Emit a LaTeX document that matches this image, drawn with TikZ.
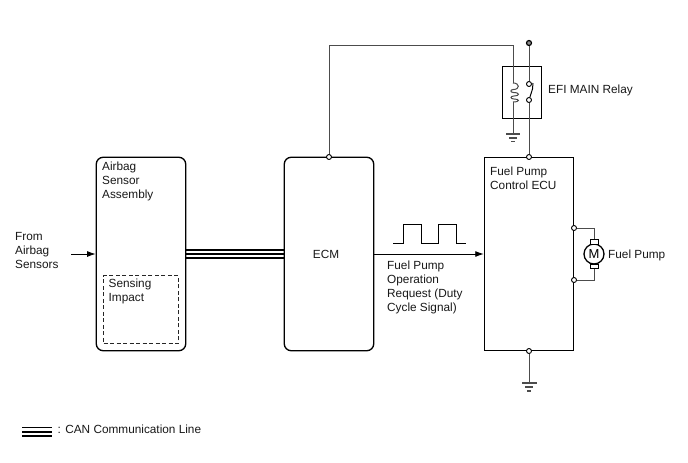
\documentclass[tikz,border=0pt]{standalone}
\usepackage{fontspec}
\setmainfont{Liberation Sans}
\usetikzlibrary{arrows.meta}
\tikzset{
  box/.style={draw=black,line width=1.3pt,minimum width=89.5pt,minimum height=193.5pt,inner sep=0pt},
  roundbox/.style={box,rounded corners=7pt},
  lbl/.style={inner sep=0pt,anchor=north west,align=left,font=\fontsize{11.8}{14}\selectfont,text=black!90},
  wire/.style={draw=black!70,line width=1pt},
  sig/.style={draw=black,line width=0.9pt,-{Latex[length=8.5pt,width=6pt]}},
  can/.style={draw=black,line width=1.9pt},
  dot/.style={circle,draw=black,fill=white,line width=0.9pt,minimum size=5pt,inner sep=0pt},
  gbar/.style={draw=black!70,line width=1.1pt},
  brush/.style={draw=black,line width=1pt,fill=white,minimum width=8.5pt,minimum height=4.5pt,inner sep=0pt},
}
\begin{document}
\begin{tikzpicture}[x=1pt,y=-1pt]
\useasboundingbox[fill=white] (0,0) rectangle (688,463);
% main boxes
\node[roundbox] (air) at (141,254) {};
\node[roundbox] (ecm) at (329,254) {};
\node[box,minimum width=89pt] (ecu) at (528.9,254) {};
\node[draw=black,line width=1.3pt,minimum width=39.5pt,minimum height=51.5pt,inner sep=0pt] (relay) at (522,92.5) {};
\node[draw=black!85,dash pattern=on 4pt off 2.5pt,line width=0.9pt,minimum width=75pt,minimum height=67.5pt,inner sep=0pt] (sense) at (141,309.5) {};
% labels
\node[lbl] (tair) at (102,162) {Airbag\\Sensor\\Assembly};
\node[lbl] (tsense) at (108.5,279) {Sensing\\Impact};
\node[lbl] (tfrom) at (15,232) {From\\Airbag\\Sensors};
\node[lbl,anchor=center] (tecm) at (326,254) {ECM};
\node[lbl] (tecu) at (490,167) {Fuel Pump\\Control ECU};
\node[lbl] (treq) at (387,261) {Fuel Pump\\Operation\\Request (Duty\\Cycle Signal)};
\node[lbl] (trelay) at (548,85) {EFI MAIN Relay};
\node[lbl] (tpump) at (608,249.5) {Fuel Pump};
\node[lbl] (tcan) at (57.5,424.5) {: CAN Communication Line};
% CAN bus
\foreach \yy in {250,254,258} {
  \coordinate (ca\yy) at (186,\yy);
  \coordinate (cb\yy) at (284,\yy);
  \draw[can] (ca\yy) -- (cb\yy);
}
\foreach \yy in {427.5,431.7,436} {
  \coordinate (la) at (22,\yy);
  \coordinate (lb) at (52,\yy);
  \draw[can] (la) -- (lb);
}
% signals
\coordinate (from) at (71,254);
\draw[sig] (from) -- (air.west);
\draw[sig] (ecm.east) -- (ecu.west);
\coordinate (p0) at (393,243);
\draw[draw=black,line width=1pt] (p0) -- (403,243) -- (403,224) -- (421,224) -- (421,243) -- (438,243) -- (438,224) -- (456,224) -- (456,243) -- (466,243);
% dots
\node[dot,fill=black!45,line width=1.2pt,minimum size=5pt] (bat) at (529,43) {};
\node[dot] (ecmdot) at (329,157) {};
\node[dot] (ecutop) at (529,157) {};
\node[dot] (ecubot) at (529,351) {};
\node[dot] (m1) at (574,228) {};
\node[dot] (m2) at (574,280) {};
\node[dot] (sw1) at (529,84) {};
\node[dot] (sw2) at (529,100) {};
\coordinate (corner) at (513,45);
\coordinate (coilA) at (513,83);
\coordinate (coilB) at (513,102);
\coordinate (g1) at (513,134);
\coordinate (g2) at (529,383);
\draw[wire] (ecmdot) -- (329,45) -- (corner) -- (coilA);
\draw[wire] (coilA) .. controls (520,83) and (520,89.5) .. (513.5,89.5)
  .. controls (510,89.5) and (510,92.5) .. (513.5,92.5)
  .. controls (520,92.5) and (520,96) .. (514,96)
  .. controls (510,96) and (510,99) .. (514,99)
  .. controls (520,99) and (520,102) .. (coilB);
\draw[wire] (coilB) -- (g1);
\draw[wire] (bat) -- (sw1);
\draw[wire] (sw2) -- (ecutop);
\draw[draw=black,line width=1pt] (sw2) -- (532.5,89) -- (533,83);
\draw[gbar] (506,134) -- (520,134);
\draw[gbar] (509,138) -- (517,138);
\draw[gbar] (511,141.5) -- (515,141.5);
\draw[wire] (ecubot) -- (g2);
\draw[gbar] (522,383) -- (537,383);
\draw[gbar] (525,387) -- (533,387);
\draw[gbar] (527,391) -- (531,391);
% motor
\node[circle,draw=black,line width=1.3pt,minimum size=20pt,inner sep=0pt,font=\fontsize{13}{14}\selectfont] (mot) at (594,254) {M};
\node[brush] (br1) at (594.5,242) {};
\node[brush] (br2) at (594.5,266.5) {};
\draw[wire] (m1) -- (594.5,228) -- (br1);
\draw[wire] (m2) -- (594.5,280) -- (br2);
\end{tikzpicture}
\end{document}
